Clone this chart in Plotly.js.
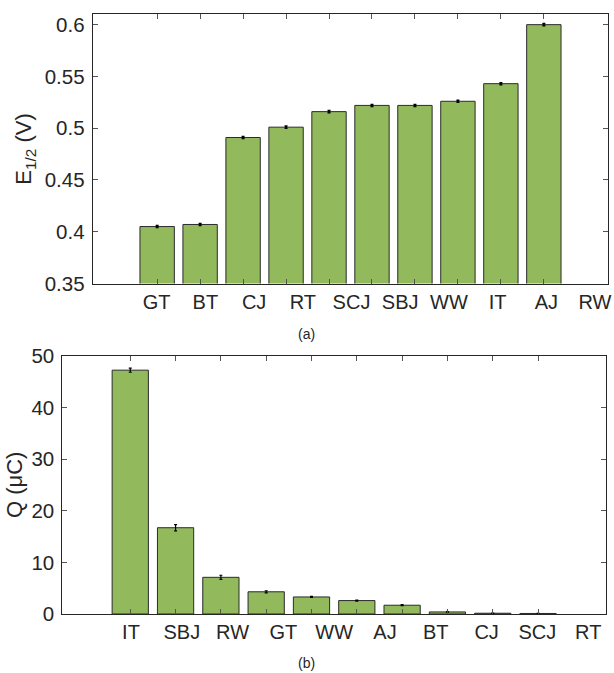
<!DOCTYPE html>
<html>
<head>
<meta charset="utf-8">
<script src="https://cdn.plot.ly/plotly-3.0.1.min.js"></script>
<style>html,body{margin:0;padding:0;background:#fff;}#chart{width:614px;height:673px;}</style>
</head>
<body>
<div id="chart"></div>
<script>
// ---- data (a) ----
const catsA = ['GT','BT','CJ','RT','SCJ','SBJ','WW','IT','AJ','RW'];
const valsA = [0.405, 0.407, 0.491, 0.501, 0.516, 0.522, 0.522, 0.526, 0.543, 0.600];
const errA  = [0.001, 0.001, 0.001, 0.001, 0.001, 0.001, 0.001, 0.001, 0.001, 0.001];
const yTicksA = [0.35, 0.4, 0.45, 0.5, 0.55, 0.6];

// ---- data (b) ----
const catsB = ['IT','SBJ','RW','GT','WW','AJ','BT','CJ','SCJ','RT'];
const valsB = [47.2, 16.7, 7.1, 4.3, 3.3, 2.6, 1.7, 0.4, 0.15, 0.1];
const errB  = [0.4, 0.6, 0.4, 0.2, 0.1, 0.1, 0.1, 0.05, 0.03, 0.02];
const yTicksB = [0, 10, 20, 30, 40, 50];

const posA = valsA.map((_, i) => i + 1);
const posB = valsB.map((_, i) => i + 1);
const labPosA = catsA.map((_, i) => i + 1);
const labPosB = catsB.map((_, i) => i + 1);

const barColor = '#92b95c';
const edge = '#2b2b2b';
const txt = '#262626';
const FONT = 'Liberation Sans, Arial, Helvetica, sans-serif';

const traces = [
  {type:'bar', x: posA, y: valsA, xaxis:'x', yaxis:'y', width:0.8,
   marker:{color:barColor, line:{color:edge, width:1}},
   error_y:{type:'data', array: errA, visible:true, color:'#000', thickness:1.5, width:1.5},
   showlegend:false, hoverinfo:'skip'},
  {type:'scatter', x:[labPosA[0]], y:[yTicksA[0]], xaxis:'x3', yaxis:'y', mode:'markers',
   marker:{opacity:0}, showlegend:false, hoverinfo:'skip'},
  {type:'bar', x: posB, y: valsB, xaxis:'x2', yaxis:'y2', width:0.8,
   marker:{color:barColor, line:{color:edge, width:1}},
   error_y:{type:'data', array: errB, visible:true, color:'#000', thickness:1.2, width:1.5},
   showlegend:false, hoverinfo:'skip'},
  {type:'scatter', x:[labPosB[0]], y:[yTicksB[0]], xaxis:'x4', yaxis:'y2', mode:'markers',
   marker:{opacity:0}, showlegend:false, hoverinfo:'skip'}
];

const W = 614, H = 673;
const dA = {l:92.7, r:608.3, t:14.3, b:283.5};
const dB = {l:62.3, r:606.0, t:355.7, b:614.0};

const axBase = {
  showline:true, linecolor:'#262626', linewidth:1, mirror:'ticks',
  ticks:'inside', ticklen:5, tickcolor:'#555', tickwidth:1,
  showgrid:false, zeroline:false, fixedrange:true,
  tickfont:{family:FONT, size:20.5, color:txt}
};

const layout = {
  width:W, height:H,
  margin:{l:0, r:0, t:0, b:0},
  paper_bgcolor:'#fff', plot_bgcolor:'#fff',
  font:{family:FONT, color:txt},
  bargap:0.2,
  xaxis: Object.assign({}, axBase, {
    domain:[dA.l/W, dA.r/W], anchor:'y', range:[-0.5, 11.5],
    tickvals: posA, showticklabels:false
  }),
  yaxis: Object.assign({}, axBase, {
    domain:[1 - dA.b/H, 1 - dA.t/H], anchor:'x', range:[0.35, 0.61],
    tickvals: yTicksA, ticklabelstandoff:3,
    title:{text:'E<sub>1/2</sub> (V)', font:{family:FONT, size:22, color:txt}, standoff:6}
  }),
  xaxis3: {
    overlaying:'x', anchor:'y', side:'bottom', range:[-0.314, 10.273],
    tickvals: labPosA, ticktext: catsA, ticks:'', showline:false, showgrid:false, zeroline:false,
    tickfont:{family:FONT, size:20, color:txt}, fixedrange:true, ticklabelstandoff:4
  },
  xaxis2: Object.assign({}, axBase, {
    domain:[dB.l/W, dB.r/W], anchor:'y2', range:[-0.5, 11.5],
    tickvals: posB, showticklabels:false
  }),
  yaxis2: Object.assign({}, axBase, {
    domain:[1 - dB.b/H, 1 - dB.t/H], anchor:'x2', range:[0, 50],
    tickvals: yTicksB, ticklabelstandoff:3,
    title:{text:'Q (μC)', font:{family:FONT, size:22, color:txt}, standoff:2}
  }),
  xaxis4: {
    overlaying:'x2', anchor:'y2', side:'bottom', range:[-0.352, 10.35],
    tickvals: labPosB, ticktext: catsB, ticks:'', showline:false, showgrid:false, zeroline:false,
    tickfont:{family:FONT, size:20, color:txt}, fixedrange:true, ticklabelstandoff:4
  },
  annotations:[
    {text:'(a)', xref:'paper', yref:'paper', x:306.7/W, y:1 - 334/H, showarrow:false,
     xanchor:'center', yanchor:'middle', font:{family:FONT, size:14, color:txt}},
    {text:'(b)', xref:'paper', yref:'paper', x:306.7/W, y:1 - 663/H, showarrow:false,
     xanchor:'center', yanchor:'middle', font:{family:FONT, size:14, color:txt}}
  ]
};

Plotly.newPlot('chart', traces, layout, {displayModeBar:false, staticPlot:true});
</script>
</body>
</html>
